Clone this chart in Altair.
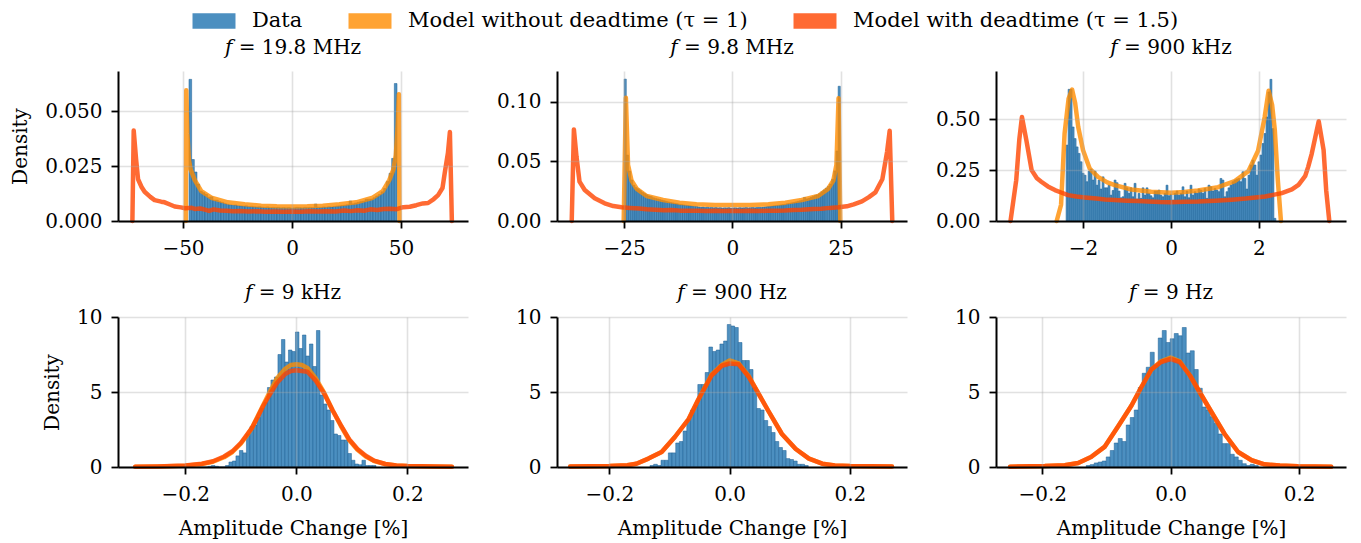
import altair as alt
import pandas as pd

FONT = "DejaVu Serif"

# ---------------- legend / series ----------------
SERIES = ["Data", "Model without deadtime (τ = 1)", "Model with deadtime (τ = 1.5)"]
SERIES_COLORS = ["#4c8fc0", "#ffa333", "#ff6a33"]
ORANGE = "#ff8c00"
RED = "#ff4500"

TITLES = ["𝑓 = 19.8 MHz", "𝑓 = 9.8 MHz", "𝑓 = 900 kHz", "𝑓 = 9 kHz", "𝑓 = 900 Hz", "𝑓 = 9 Hz"]
X_TICKS = [[-50, 0, 50], [-25, 0, 25], [-2, 0, 2], [-0.2, 0.0, 0.2], [-0.2, 0.0, 0.2], [-0.2, 0.0, 0.2]]
Y_TICKS = [[0, 0.025, 0.05], [0, 0.05, 0.10], [0, 0.25, 0.5], [0, 5, 10], [0, 5, 10], [0, 5, 10]]
X_FORMATS = ["d", "d", "d", ".1f", ".1f", ".1f"]
Y_FORMATS = [".3f", ".2f", ".2f", "d", "d", "d"]
X_DOMAINS = [[-79.8, 80.7], [-40.5, 40.3], [-3.98, 3.98], [-0.321, 0.309], [-0.287, 0.295], [-0.272, 0.273]]
Y_DOMAINS = [[0, 0.0683], [0, 0.1258], [0, 0.737], [0, 10], [0, 10], [0, 10]]
X_TITLE = "Amplitude Change [%]"
Y_TITLE = "Density"

# ---------------- panel 1 : 19.8 MHz ----------------
H1_START, H1_WIDTH = -47.25, 1.223
H1 = [0.0645, 0.028, 0.0223, 0.0168, 0.0136, 0.0129, 0.0121, 0.0108, 0.011, 0.0095,
      0.0095, 0.0088, 0.0085, 0.008, 0.0076, 0.0074, 0.0072, 0.0073, 0.007, 0.0069,
      0.0068, 0.0069, 0.0066, 0.0067, 0.0065, 0.0064, 0.0065, 0.0063, 0.0062, 0.0064,
      0.0061, 0.0062, 0.0061, 0.0062, 0.006, 0.0061, 0.006, 0.0061, 0.0059, 0.006,
      0.0062, 0.0061, 0.006, 0.0062, 0.0061, 0.0062, 0.0061, 0.0077, 0.0063, 0.0062,
      0.0064, 0.0063, 0.0065, 0.0064, 0.0066, 0.0068, 0.0069, 0.0071, 0.0072, 0.0074,
      0.0091, 0.0078, 0.0082, 0.0085, 0.0088, 0.009, 0.0099, 0.0099, 0.01, 0.0106,
      0.0114, 0.0121, 0.0133, 0.0148, 0.018, 0.0217, 0.0285, 0.0626]
O1_X = [-48.7, -48.5, -48.0, -47.3, -46.5, -44.6, -41.6, -37.0, -29.4, -21.7, -14.1, -7.0, 0.0,
        7.0, 14.1, 21.7, 29.4, 37.0, 41.6, 44.6, 46.5, 47.6, 48.4, 49.0, 49.3]
O1_Y = [0.0, 0.0595, 0.04, 0.028, 0.0235, 0.0186, 0.0136, 0.0106, 0.0085, 0.0076, 0.007, 0.0067, 0.0066,
        0.0067, 0.007, 0.0076, 0.0085, 0.0106, 0.0136, 0.0186, 0.0235, 0.03, 0.042, 0.0577, 0.0]
R1_X = [-73.2, -72.6, -71.5, -70.6, -69.0, -67.6, -65.0, -63.0, -60.0, -58.4, -56.0, -53.8, -51.0, -49.0,
        -46.0, -44.6, -42.0, -40.0, -38.0, -36.0, -33.0, -30.0, -27.0, -24.0, -20.0, -16.0, -12.0, -8.0,
        -4.0, 0.0, 4.0, 8.0, 12.0, 16.0, 20.0, 24.0, 27.0, 30.0, 33.0, 36.0, 39.0, 42.0, 45.0, 48.0, 51.0,
        54.0, 57.0, 60.0, 62.4, 65.0, 67.0, 69.0, 70.0, 71.5, 72.4, 73.3]
R1_Y = [0.0, 0.0412, 0.028, 0.019, 0.0155, 0.0133, 0.011, 0.0095, 0.0088, 0.0085, 0.0075, 0.0066, 0.0062,
        0.0058, 0.006, 0.0055, 0.0057, 0.0052, 0.0046, 0.0053, 0.0048, 0.0047, 0.0044, 0.0045, 0.0043,
        0.0044, 0.0042, 0.0043, 0.0042, 0.0043, 0.0042, 0.0044, 0.0043, 0.0044, 0.0043, 0.0048, 0.0045,
        0.0049, 0.0047, 0.0053, 0.005, 0.0055, 0.0056, 0.0054, 0.0063, 0.0065, 0.0072, 0.008, 0.0082,
        0.01, 0.0118, 0.015, 0.0217, 0.031, 0.0405, 0.0]

# ---------------- panel 2 : 9.8 MHz ----------------
H2_START, H2_WIDTH = -25.0, 0.499
H2 = [0.119, 0.0553, 0.0419, 0.0344, 0.030, 0.028,
      0.027, 0.0255, 0.024, 0.023, 0.022, 0.021,
      0.0205, 0.0195, 0.019, 0.0185, 0.018, 0.0175,
      0.017, 0.0165, 0.016, 0.0155, 0.0152, 0.0148,
      0.0145, 0.014, 0.0138, 0.0135, 0.0132, 0.013, 0.0128, 0.0125, 0.0123, 0.0122,
      0.0118, 0.0115, 0.0117, 0.0113, 0.0116, 0.0112, 0.0114, 0.0111, 0.0113, 0.011,
      0.0112, 0.0109, 0.0111, 0.011, 0.0112, 0.0108, 0.011, 0.0111, 0.0109, 0.0112,
      0.011, 0.0111, 0.0113, 0.011, 0.0112, 0.0114, 0.0111, 0.0113, 0.0115, 0.0114,
      0.0117, 0.0119,
      0.0122, 0.0123, 0.0125, 0.0128, 0.013, 0.0132, 0.0135, 0.0138, 0.014, 0.0145,
      0.0148, 0.0152, 0.0155, 0.016, 0.0165, 0.017, 0.0175, 0.0198,
      0.0185, 0.019, 0.0198, 0.0205, 0.0215, 0.022, 0.023, 0.0245, 0.026, 0.0275,
      0.029, 0.031, 0.035, 0.042, 0.0587, 0.113]
O2_X = [-25.1, -24.6, -24.1, -23.3, -22.1, -19.8, -16.0, -12.2, -8.3, -4.0, 0.0, 4.0, 8.3, 12.2, 16.0,
        19.8, 22.1, 23.3, 24.0, 24.5, 24.9]
O2_Y = [0.0, 0.1034, 0.047, 0.034, 0.027, 0.021, 0.0176, 0.0154, 0.014, 0.0135, 0.0134, 0.0135, 0.014,
        0.0154, 0.0176, 0.021, 0.027, 0.034, 0.047, 0.103, 0.0]
R2_X = [-37.1, -36.6, -36.0, -35.3, -34.1, -31.8, -29.5, -27.5, -25.6, -23.7, -21.5, -19.8, -17.8, -15.9,
        -14.0, -12.1, -10.0, -8.0, -6.0, -4.0, -2.0, 0.0, 2.0, 4.0, 6.0, 8.0, 10.0, 12.0, 14.0, 16.0, 18.7,
        20.5, 22.5, 24.5, 26.4, 28.0, 29.9, 31.5, 33.0, 34.6, 35.7, 36.3, 36.9]
R2_Y = [0.0, 0.0768, 0.054, 0.033, 0.026, 0.019, 0.0148, 0.0125, 0.0115, 0.011, 0.0105, 0.0098, 0.0095,
        0.009, 0.0092, 0.0087, 0.0086, 0.0085, 0.0084, 0.0086, 0.0084, 0.0085, 0.0084, 0.0085, 0.0084,
        0.0086, 0.0087, 0.0088, 0.0092, 0.0094, 0.01, 0.0103, 0.011, 0.0115, 0.0123, 0.014, 0.0165, 0.02,
        0.024, 0.035, 0.058, 0.0757, 0.0]

# ---------------- panel 3 : 900 kHz ----------------
H3_START, H3_WIDTH = -2.386, 0.04545
H3 = [0.373, 0.647, 0.647, 0.462, 0.405, 0.364, 0.332, 0.291, 0.234, 0.225,
      0.193, 0.245, 0.255, 0.201, 0.245, 0.176, 0.201, 0.157, 0.217, 0.163,
      0.163, 0.176, 0.127, 0.150, 0.201, 0.188, 0.147, 0.114, 0.119, 0.185,
      0.163, 0.136, 0.163, 0.119, 0.185, 0.108, 0.136, 0.111, 0.163, 0.127,
      0.163, 0.136, 0.124, 0.114, 0.147, 0.147, 0.152, 0.127, 0.119, 0.136,
      0.176, 0.124, 0.131, 0.103, 0.136, 0.147, 0.127, 0.136, 0.168, 0.119,
      0.147, 0.114, 0.176, 0.127, 0.144, 0.136, 0.157, 0.152, 0.136, 0.160,
      0.111, 0.176, 0.168, 0.147, 0.160, 0.152, 0.144, 0.209, 0.201, 0.119,
      0.144, 0.163, 0.176, 0.193, 0.201, 0.206, 0.209, 0.193, 0.242, 0.209,
      0.157, 0.225, 0.275, 0.299, 0.275, 0.225, 0.291, 0.324, 0.381, 0.430,
      0.511, 0.634, 0.696, 0.454, 0.013]
O3_X = [-2.6, -2.5, -2.42, -2.33, -2.25, -2.18, -2.11, -2.0, -1.85, -1.66, -1.45, -1.28, -0.9, -0.45,
        0.0, 0.3, 0.61, 1.07, 1.45, 1.76, 1.98, 2.13, 2.22, 2.3, 2.36, 2.43, 2.5]
O3_Y = [0.0, 0.08, 0.43, 0.6, 0.646, 0.58, 0.462, 0.348, 0.258, 0.217, 0.19, 0.176, 0.155, 0.144,
        0.139, 0.142, 0.15, 0.166, 0.196, 0.245, 0.345, 0.51, 0.64, 0.57, 0.45, 0.2, 0.0]
R3_X = [-3.65, -3.52, -3.45, -3.39, -3.29, -3.17, -3.05, -2.95, -2.8, -2.64, -2.5, -2.34, -2.15, -1.96,
        -1.7, -1.5, -1.28, -1.0, -0.75, -0.52, -0.25, 0.0, 0.3, 0.62, 1.0, 1.38, 1.7, 2.14, 2.52, 2.75,
        2.9, 3.05, 3.12, 3.2, 3.28, 3.36, 3.47, 3.53, 3.6]
R3_Y = [0.0, 0.2, 0.4, 0.511, 0.397, 0.25, 0.21, 0.193, 0.17, 0.152, 0.14, 0.127, 0.12, 0.116, 0.11,
        0.106, 0.103, 0.1, 0.098, 0.096, 0.093, 0.092, 0.095, 0.096, 0.1, 0.105, 0.11, 0.12, 0.137,
        0.155, 0.177, 0.22, 0.266, 0.33, 0.41, 0.49, 0.35, 0.15, 0.0]

# ---------------- panel 4 : 9 kHz ----------------
H4_START, H4_WIDTH = -0.178, 0.0063
H4 = [0.0, 0.0, 0.0, 0.05, 0.1, 0.05, 0.0, 0.0, 0.1,
      0.33, 0.4, 0.74, 1.1, 0.94, 2.2, 2.7, 2.8, 3.3, 3.9, 4.3, 5.3, 5.8, 6.0, 7.5, 8.5,
      7.0, 7.8, 7.7, 9.0, 7.9, 8.8, 7.4, 8.2, 6.7, 9.1, 4.8, 4.2, 3.8, 3.1, 2.2, 2.1,
      1.8, 1.8, 0.9, 0.45, 0.2, 0.15, 0.45, 0.1, 0.1, 0.1]
C4_X = [-0.29, -0.25, -0.2, -0.17, -0.15, -0.13, -0.115, -0.1, -0.09, -0.08, -0.07, -0.06, -0.05,
        -0.035, -0.02, -0.01, 0.0, 0.01, 0.02, 0.035, 0.05, 0.065, 0.08, 0.095, 0.11, 0.125, 0.14,
        0.16, 0.18, 0.2, 0.25, 0.28]
O4_Y = [0.02, 0.04, 0.09, 0.2, 0.35, 0.65, 1.0, 1.55, 2.05, 2.6, 3.35, 4.1, 4.85, 5.9, 6.55, 6.8,
        6.85, 6.8, 6.6, 5.9, 4.95, 3.8, 2.75, 1.8, 1.15, 0.7, 0.4, 0.2, 0.1, 0.06, 0.03, 0.02]
R4_Y = [0.02, 0.04, 0.1, 0.22, 0.38, 0.7, 1.05, 1.6, 2.1, 2.6, 3.3, 4.05, 4.7, 5.6, 6.2, 6.4, 6.45,
        6.4, 6.35, 5.75, 4.9, 3.8, 2.8, 1.85, 1.2, 0.75, 0.42, 0.2, 0.1, 0.06, 0.03, 0.02]

# ---------------- panel 5 : 900 Hz ----------------
H5_START, H5_WIDTH = -0.1324, 0.00612
H5 = [0.1, 0.18, 0.1, 0.45, 0.45, 0.94, 0.94, 1.6, 1.7, 2.4, 3.2, 3.8, 4.1, 5.5, 5.5, 6.3, 8.0,
      7.7, 7.8, 8.2, 8.4, 9.5, 9.4, 9.3, 8.3, 7.1, 7.1, 6.5, 5.3, 3.9, 3.8, 3.1, 2.7, 2.3, 1.7,
      1.3, 1.1, 0.56, 0.5, 0.4, 0.18, 0.18, 0.1]
C5_X = [-0.265, -0.2, -0.17, -0.155, -0.135, -0.113, -0.091, -0.068, -0.052, -0.03, -0.013, 0.0,
        0.015, 0.032, 0.048, 0.065, 0.087, 0.11, 0.132, 0.154, 0.175, 0.2, 0.27]
O5_Y = [0.03, 0.07, 0.12, 0.22, 0.56, 1.0, 2.0, 3.2, 4.5, 6.15, 6.8, 7.1, 6.9, 6.05, 4.9, 3.7, 2.2,
        1.2, 0.56, 0.22, 0.1, 0.06, 0.03]
R5_Y = [0.03, 0.07, 0.12, 0.22, 0.56, 1.0, 2.0, 3.2, 4.5, 6.1, 6.75, 6.9, 6.85, 6.0, 4.9, 3.7, 2.2,
        1.2, 0.56, 0.22, 0.1, 0.06, 0.03]

# ---------------- panel 6 : 9 Hz ----------------
H6_START, H6_WIDTH = -0.1315, 0.00623
H6 = [0.1, 0.16, 0.27, 0.33, 0.4, 0.67, 1.1, 1.6, 1.9, 1.7, 2.8, 3.3, 3.8, 5.3, 6.25, 6.65, 7.65,
      6.8, 8.6, 9.1, 8.3, 8.55, 8.9, 8.75, 9.3, 7.6, 7.75, 6.5, 5.25, 4.0, 3.8, 3.35, 2.9, 2.2, 1.56,
      1.56, 0.85, 0.67, 0.45, 0.22, 0.1, 0.18, 0.1]
C6_X = [-0.25, -0.196, -0.165, -0.144, -0.124, -0.103, -0.082, -0.061, -0.046, -0.03, -0.015, 0.0,
        0.014, 0.03, 0.045, 0.063, 0.084, 0.105, 0.126, 0.146, 0.17, 0.198, 0.25]
O6_Y = [0.02, 0.06, 0.12, 0.27, 0.67, 1.34, 2.7, 4.1, 5.3, 6.5, 7.05, 7.3, 7.05, 6.1, 5.0, 3.7, 2.2,
        1.0, 0.45, 0.18, 0.1, 0.05, 0.02]
R6_Y = [0.02, 0.06, 0.12, 0.27, 0.67, 1.34, 2.7, 4.1, 5.3, 6.5, 7.0, 7.2, 7.0, 6.1, 5.0, 3.7, 2.2,
        1.0, 0.45, 0.18, 0.1, 0.05, 0.02]

HISTS = [(H1_START, H1_WIDTH, H1), (H2_START, H2_WIDTH, H2), (H3_START, H3_WIDTH, H3),
         (H4_START, H4_WIDTH, H4), (H5_START, H5_WIDTH, H5), (H6_START, H6_WIDTH, H6)]
ORANGES = [(O1_X, O1_Y), (O2_X, O2_Y), (O3_X, O3_Y), (C4_X, O4_Y), (C5_X, O5_Y), (C6_X, O6_Y)]
REDS = [(R1_X, R1_Y), (R2_X, R2_Y), (R3_X, R3_Y), (C4_X, R4_Y), (C5_X, R5_Y), (C6_X, R6_Y)]
TITLE_OFFSETS = [13, 13, 13, 4, 4, 4]

LEGEND = alt.Legend(
    title=None, orient="none", legendX=85, legendY=-61, direction="horizontal",
    symbolType="M-2,-0.72H2V0.72H-2Z", symbolSize=462, symbolStrokeWidth=0, symbolOpacity=1,
    labelFont=FONT, labelFontSize=21, labelColor="black", labelLimit=600,
    columnPadding=45, labelOffset=27, padding=0,
)


def panel(k):
    start, width, heights = HISTS[k]
    bars_df = pd.DataFrame({
        "x0": [start + i * width for i in range(len(heights))],
        "x1": [start + (i + 1) * width for i in range(len(heights))],
        "h": heights,
        "series": ["Data"] * len(heights),
    })
    ox, oy = ORANGES[k]
    rx, ry = REDS[k]
    o_df = pd.DataFrame({"x0": ox, "h": oy, "i": list(range(len(ox)))})
    r_df = pd.DataFrame({"x0": rx, "h": ry, "i": list(range(len(rx)))})

    xs = alt.Scale(domain=X_DOMAINS[k], nice=False, zero=False)
    ys = alt.Scale(domain=Y_DOMAINS[k], nice=False, zero=False)
    xaxis = alt.Axis(values=X_TICKS[k], format=X_FORMATS[k], labelFlush=False, zindex=1,
                     grid=True, labelOverlap=False)
    yaxis = alt.Axis(values=Y_TICKS[k], format=Y_FORMATS[k], labelFlush=False, zindex=1,
                     grid=True, labelOverlap=False)
    xt = X_TITLE if k >= 3 else None
    yt = Y_TITLE if k in (0, 3) else None

    def xenc():
        return alt.X("x0:Q", scale=xs, axis=xaxis, title=xt)

    def yenc():
        return alt.Y("h:Q", scale=ys, axis=yaxis, title=yt)

    bars = alt.Chart(bars_df).mark_bar(stroke="#1b5f94", strokeWidth=0.6, strokeOpacity=0.85).encode(
        x=xenc(), x2="x1:Q", y=yenc(), y2=alt.datum(0),
        fill=alt.Fill("series:N", scale=alt.Scale(domain=SERIES, range=SERIES_COLORS), legend=LEGEND),
    )
    orange = alt.Chart(o_df).mark_line(color=ORANGE, opacity=0.8, strokeWidth=4.5,
                                       strokeCap="round", strokeJoin="round").encode(
        x=xenc(), y=yenc(), order=alt.Order("i:Q"))
    red = alt.Chart(r_df).mark_line(color=RED, opacity=0.8, strokeWidth=4.5,
                                    strokeCap="round", strokeJoin="round").encode(
        x=xenc(), y=yenc(), order=alt.Order("i:Q"))
    return alt.layer(bars, orange, red).properties(
        width=350, height=150, title=alt.Title(TITLES[k], offset=TITLE_OFFSETS[k]))


chart = alt.concat(
    *[panel(k) for k in range(6)], columns=3,
    spacing=alt.RowColnumber(row=96, column=89), bounds="flush",
).properties(
    padding={"left": 2, "top": 2, "right": 5, "bottom": 2},
).configure_axis(
    labelFont=FONT, labelFontSize=20, labelColor="black",
    titleFont=FONT, titleFontSize=20, titleFontWeight="normal", titleColor="black",
    domainColor="black", domainWidth=2, tickColor="black", tickWidth=1.8, tickSize=7,
    gridColor="#a8a8a8", gridOpacity=0.35, gridWidth=1.6,
).configure_axisX(labelPadding=10, titlePadding=14).configure_axisY(
    labelPadding=9, titlePadding=14
).configure_title(
    font=FONT, fontSize=20, fontWeight="normal", color="black"
).configure_view(stroke="transparent")

chart.save("out.html", embed_options={"renderer": "svg", "actions": False})
